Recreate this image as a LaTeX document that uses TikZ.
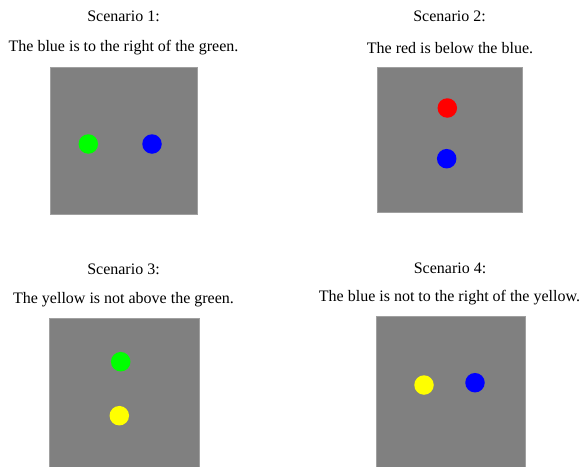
\documentclass[tikz,border=0pt]{standalone}
\usepackage{fontspec}
\setmainfont{Liberation Serif}
\definecolor{pgray}{RGB}{128,128,128}
\definecolor{pgreen}{RGB}{0,255,0}
\definecolor{pblue}{RGB}{0,0,255}
\definecolor{pred}{RGB}{255,0,0}
\definecolor{pyellow}{RGB}{255,255,0}
\tikzset{
  lbl/.style={inner sep=0pt, font=\fontsize{16}{19}\selectfont, text=black},
  panel/.style={fill=pgray, draw=pgray!75!white, line width=0.6pt},
  dot/.style={circle, inner sep=0pt, minimum size=19.5pt, draw=none},
}
\begin{document}
\begin{tikzpicture}[x=1pt,y=-1pt]
\useasboundingbox (0,0) rectangle (581,466);
% Scenario 1
\node[lbl] (t1) at (123.5,16) {Scenario 1:};
\node[lbl] (s1) at (123.5,48) {The blue is to the right of the green.};
\draw[panel] (50,67) rectangle (197,214);
\node[dot, fill=pgreen] (g1) at (88.3,144) {};
\node[dot, fill=pblue] (b1) at (152,144) {};
% Scenario 2
\node[lbl] (t2) at (449.5,16) {Scenario 2:};
\node[lbl] (s2) at (450,48) {The red is below the blue.};
\draw[panel] (377.5,67) rectangle (522.5,212);
\node[dot, fill=pred] (r2) at (447.3,108) {};
\node[dot, fill=pblue] (b2) at (446.7,158.7) {};
% Scenario 3
\node[lbl] (t3) at (123.5,269) {Scenario 3:};
\node[lbl] (s3) at (123.5,300) {The yellow is not above the green.};
\draw[panel] (49,318.7) rectangle (199.3,470);
\node[dot, fill=pgreen] (g3) at (120.7,361.7) {};
\node[dot, fill=pyellow] (y3) at (119.3,415.7) {};
% Scenario 4
\node[lbl] (t4) at (450,268) {Scenario 4:};
\node[lbl] (s4) at (449.5,298) {The blue is not to the right of the yellow.};
\draw[panel] (376.7,316.7) rectangle (525,470);
\node[dot, fill=pyellow] (y4) at (424,385) {};
\node[dot, fill=pblue] (b4) at (475,382.7) {};
\end{tikzpicture}
\end{document}
